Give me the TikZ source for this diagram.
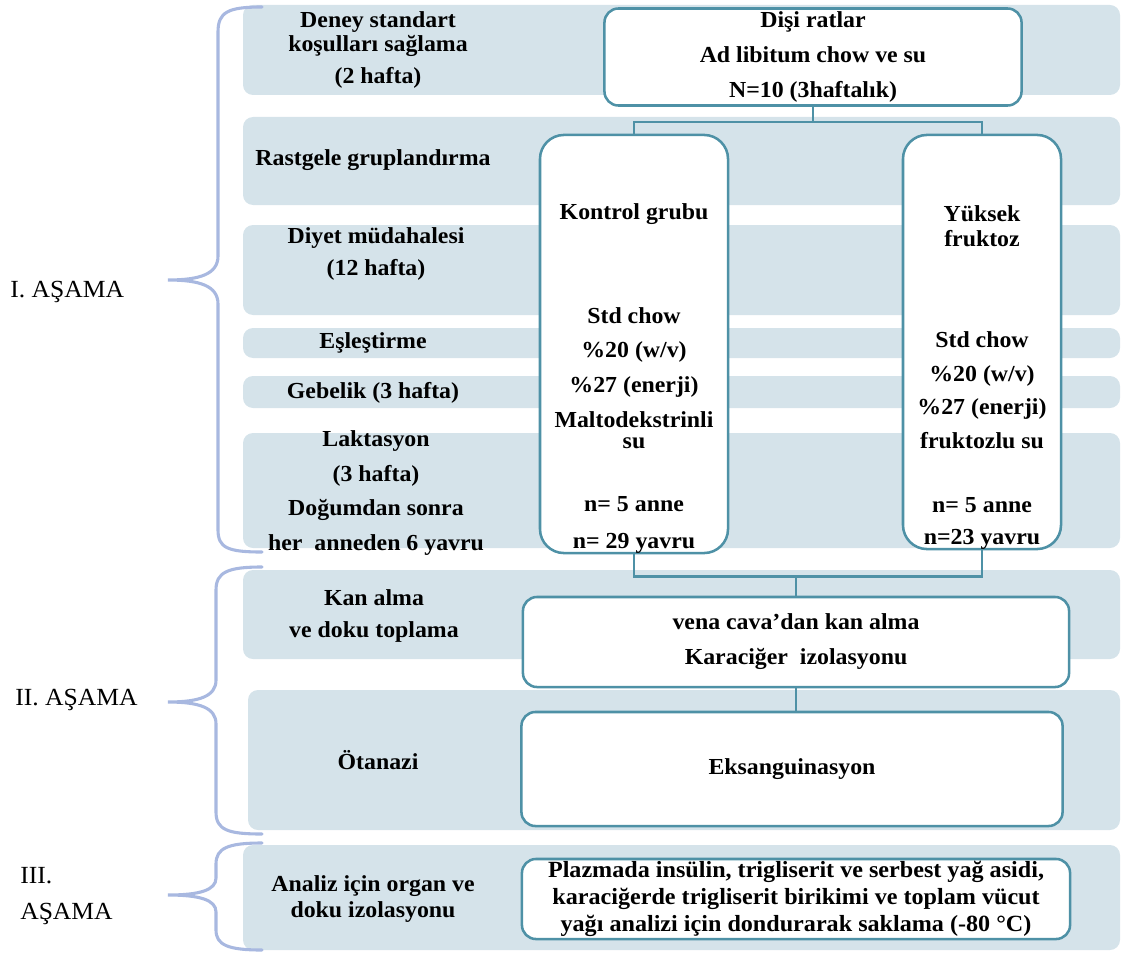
\documentclass[tikz,border=0pt]{standalone}
\usepackage{fontspec}
\setmainfont{Liberation Serif}[FakeStretch=1.04]
\usetikzlibrary{positioning,calc}

\definecolor{bandblue}{HTML}{D5E3EA}
\definecolor{boxteal}{HTML}{4E91A6}
\definecolor{bracelav}{HTML}{A8B8E0}

\begin{document}
\begin{tikzpicture}[x=0.025cm, y=-0.025cm,
    every node/.style={font=\fontsize{16.3}{22.8}\selectfont\bfseries, align=center, inner sep=0pt},
    band/.style={fill=bandblue, rounded corners=0.25cm},
    stepbox/.style={draw=boxteal, line width=1.8pt, fill=white, rounded corners=0.35cm},
    grpbox/.style={stepbox, rounded corners=0.6cm},
    conn/.style={draw=boxteal, line width=1.8pt},
    brace/.style={draw=bracelav, line width=2.2pt, line cap=round},
    stage/.style={font=\fontsize{17.5}{25}\selectfont, anchor=west, align=left}]
  \useasboundingbox (0,0) rectangle (1122,952);

  % background bands
  \fill[band] (243,5) rectangle (1120,95);
  \fill[band] (243,117) rectangle (1120,205);
  \fill[band] (243,225) rectangle (1120,315);
  \fill[band] (243,328) rectangle (1120,358);
  \fill[band] (243,376) rectangle (1120,408);
  \fill[band] (243,433) rectangle (1120,548);
  \fill[band] (243,570) rectangle (1120,659);
  \fill[band] (248,690) rectangle (1120,830);
  \fill[band] (243,845) rectangle (1120,950);

  % braces
  \draw[brace] (262,7) .. controls (228,7) and (218,12) .. (218,32) -- (218,256)
    .. controls (218,274) and (200,280) .. (168,280) .. controls (200,280) and (218,286) .. (218,304)
    -- (218,530) .. controls (218,548) and (228,552) .. (262,552);
  \draw[brace] (262,567) .. controls (228,567) and (216,572) .. (216,590) -- (216,680)
    .. controls (216,696) and (200,702) .. (168,702) .. controls (200,702) and (216,708) .. (216,724)
    -- (216,812) .. controls (216,830) and (228,834) .. (262,834);
  \draw[brace] (262,843) .. controls (228,843) and (216,848) .. (216,864) -- (216,878)
    .. controls (216,890) and (200,895) .. (168,895) .. controls (200,895) and (216,900) .. (216,912)
    -- (216,930) .. controls (216,945) and (228,950) .. (262,950);

  % stage labels
  \node[stage] (st1) at (10,292) {I. AŞAMA};
  \node[stage] (st2) at (15,700) {II. AŞAMA};
  \node[stage] (st3) at (20,896) {III.\\AŞAMA};

  % left column labels
  \node (lbl1) at (378,50) {Deney standart\\[-6pt]koşulları sağlama\\(2 hafta)};
  \node (lbl2) at (373,160) {Rastgele gruplandırma};
  \node (lbl3) at (376,254) {Diyet müdahalesi\\(12 hafta)};
  \node (lbl4) at (373,343) {Eşleştirme};
  \node (lbl5) at (373,393) {Gebelik (3 hafta)};
  \node (lbl6) at (376,493) {Laktasyon\\[2pt](3 hafta)\\[2pt]Doğumdan sonra\\[2pt]her\ \ anneden 6 yavru};
  \node (lbl7) at (374,616) {Kan alma\\ve doku toplama};
  \node (lbl8) at (378,760) {Ötanazi};
  \node (lbl9) at (373,899) {Analiz için organ ve\\[-4pt]doku izolasyonu};

  % boxes
  \node[stepbox, minimum width=10.425cm, minimum height=2.425cm] (rats) at (813,57)
    {Dişi ratlar\\[2pt]Ad libitum chow ve su\\[2pt]N=10 (3haftalık)};
  \node[grpbox, minimum width=4.7cm, minimum height=10.45cm] (ctrl) at (634,344) {};
  \node[grpbox, minimum width=3.95cm, minimum height=10.35cm] (fru) at (982,342) {};
  \node[stepbox, minimum width=13.65cm, minimum height=2.25cm] (vena) at (796,642)
    {vena cava’dan kan alma\\[2pt]Karaciğer\ \ izolasyonu};
  \node[stepbox, minimum width=13.525cm, minimum height=2.85cm] (eks) at (792,769) {Eksanguinasyon};
  \node[stepbox, minimum width=13.7cm, minimum height=2cm,
    font=\fontsize{16.5}{19}\selectfont\bfseries] (plaz) at (796,899)
    {Plazmada insülin, trigliserit ve serbest yağ asidi,\\karaciğerde trigliserit birikimi ve toplam vücut\\yağı analizi için dondurarak saklama (-80 °C)};

  % group texts
  \node (ctitle) at (634,214) {Kontrol grubu};
  \node (cdiet) at (634,378) {Std chow\\[2pt]\%20 (w/v)\\[2pt]\%27 (enerji)\\[2pt]Maltodekstrinli\\[-8pt]su};
  \node (cn) at (634,525) {n= 5 anne\\[3pt]n= 29 yavru};
  \node (ftitle) at (982,226) {Yüksek\\[-5pt]fruktoz};
  \node (fdiet) at (982,390) {Std chow\\[1pt]\%20 (w/v)\\[1pt]\%27 (enerji)\\[1pt]fruktozlu su};
  \node (fn) at (982,523) {n= 5 anne\\n=23 yavru};

  % connectors
  \draw[conn] (rats.south) -- ++(0,15) -| (ctrl.north);
  \draw[conn] (rats.south) -- ++(0,15) -| (fru.north);
  \draw[conn] (ctrl.south) -- ++(0,22) -| (vena.north);
  \draw[conn] (fru.south) |- ($(ctrl.south)+(0,22)$);
  \draw[conn] (vena.south) -- (vena.south |- eks.north);
\end{tikzpicture}
\end{document}
